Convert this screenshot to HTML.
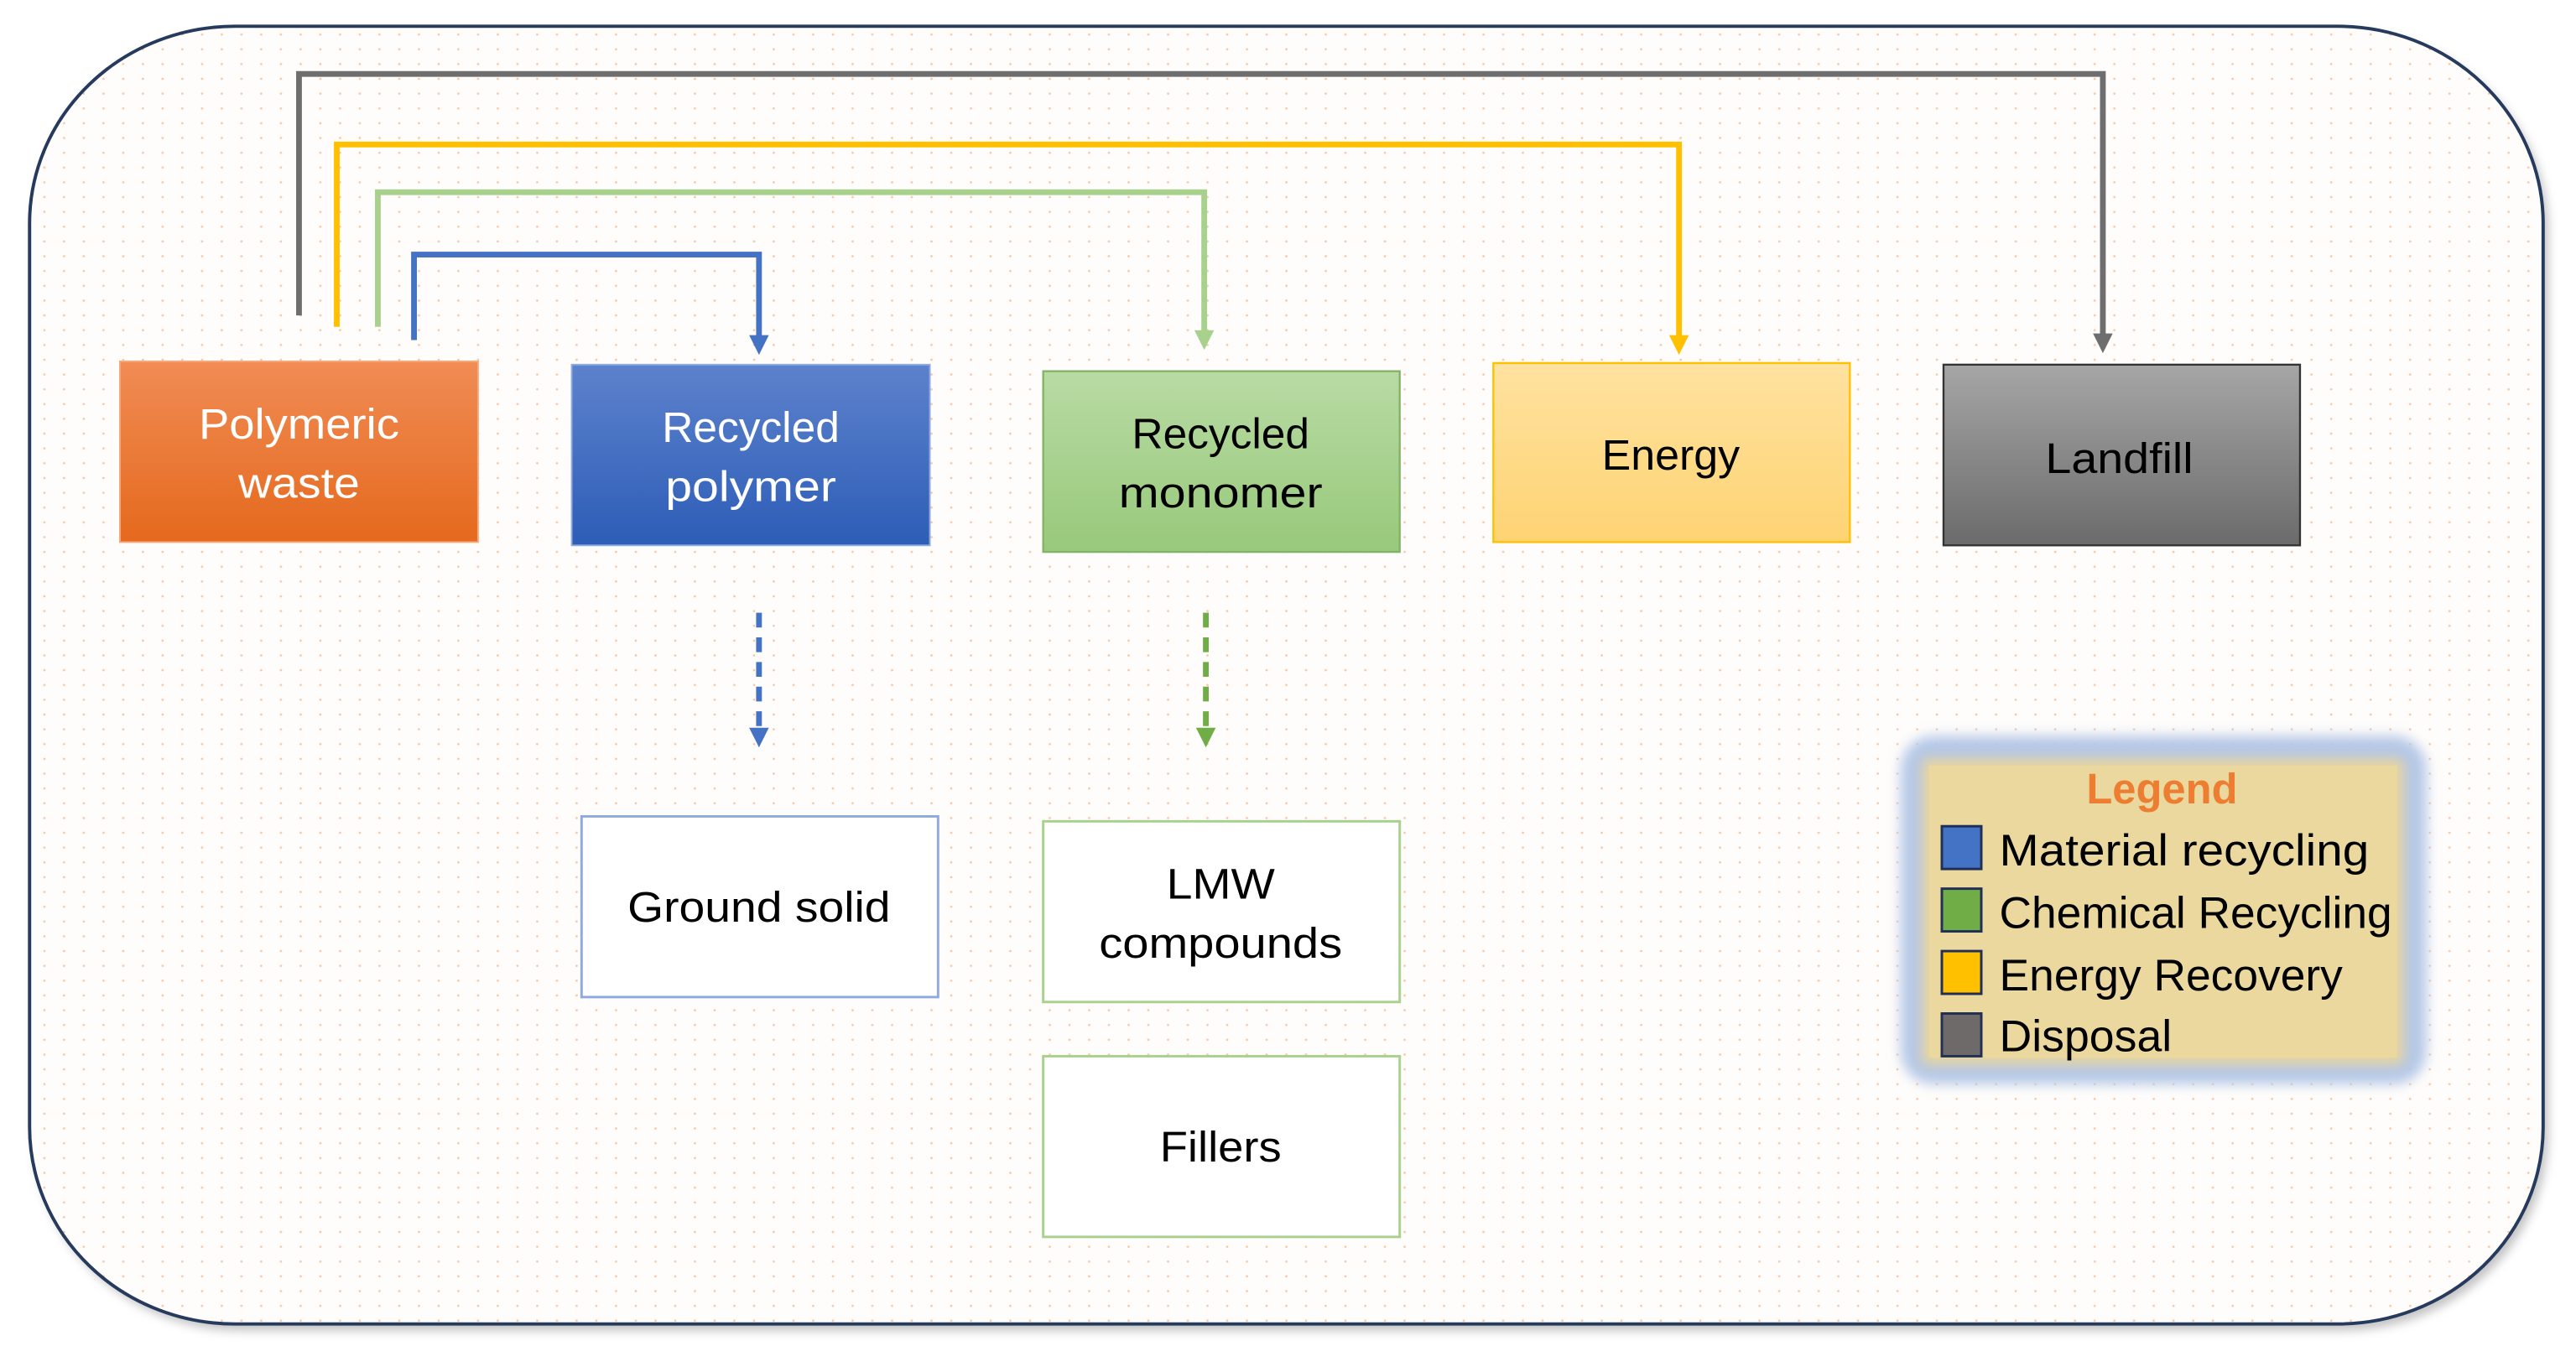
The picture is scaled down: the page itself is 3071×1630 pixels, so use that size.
<!DOCTYPE html>
<html><head><meta charset="utf-8"><style>
html,body{margin:0;padding:0;background:#fff;}
svg{display:block;}
text{font-family:"Liberation Sans",sans-serif;}
</style></head><body>
<svg width="3071" height="1630" viewBox="0 0 1568 832.2" preserveAspectRatio="none" xmlns="http://www.w3.org/2000/svg">
<defs>
<pattern id="dots" x="0" y="0" width="12" height="9" patternUnits="userSpaceOnUse">
<circle cx="3" cy="3" r="0.7" fill="#f4b183" opacity="0.7"/>
</pattern>
<linearGradient id="gO" x1="0" y1="0" x2="0" y2="1"><stop offset="0" stop-color="#f08c55"/><stop offset="1" stop-color="#e5691d"/></linearGradient>
<linearGradient id="gB" x1="0" y1="0" x2="0" y2="1"><stop offset="0" stop-color="#5d82cc"/><stop offset="1" stop-color="#2d5db7"/></linearGradient>
<linearGradient id="gG" x1="0" y1="0" x2="0" y2="1"><stop offset="0" stop-color="#b8dba4"/><stop offset="1" stop-color="#98c97b"/></linearGradient>
<linearGradient id="gY" x1="0" y1="0" x2="0" y2="1"><stop offset="0" stop-color="#ffe2a0"/><stop offset="1" stop-color="#fed373"/></linearGradient>
<linearGradient id="gK" x1="0" y1="0" x2="0" y2="1"><stop offset="0" stop-color="#a6a6a6"/><stop offset="1" stop-color="#6b6b6b"/></linearGradient>
<filter id="blur" x="-10%" y="-10%" width="120%" height="120%"><feGaussianBlur stdDeviation="4"/></filter>
<filter id="sh" x="-5%" y="-5%" width="110%" height="110%"><feGaussianBlur stdDeviation="3"/></filter>
</defs>
<rect x="21" y="20" width="1530" height="790" rx="125" ry="120" fill="#999" filter="url(#sh)" opacity="0.6"/>
<rect x="18" y="16" width="1530" height="790" rx="125" ry="120" fill="#fffdfb"/>
<rect x="18" y="16" width="1530" height="790" rx="125" ry="120" fill="url(#dots)" stroke="#263a5e" stroke-width="2"/>

<!-- connectors -->
<g fill="none" stroke-width="3.5">
<polyline points="182,192 182,45 1280,45 1280,205" stroke="#6e6e6e"/>
<polyline points="205,199 205,88 1022,88 1022,206" stroke="#ffc000"/>
<polyline points="230,199 230,117 733,117 733,203" stroke="#a9d18e"/>
<polyline points="252,207 252,155 462,155 462,206" stroke="#4472c4"/>
<line x1="462" y1="373" x2="462" y2="446" stroke="#4472c4" stroke-dasharray="9,6"/>
<line x1="734" y1="373" x2="734" y2="446" stroke="#70ad47" stroke-dasharray="9,6"/>
</g>
<g>
<polygon points="1274,203 1286,203 1280,215" fill="#6e6e6e"/>
<polygon points="1016,204 1028,204 1022,216" fill="#ffc000"/>
<polygon points="727,201 739,201 733,213" fill="#a9d18e"/>
<polygon points="456,204 468,204 462,216" fill="#4472c4"/>
<polygon points="456,443 468,443 462,455" fill="#4472c4"/>
<polygon points="728,443 740,443 734,455" fill="#70ad47"/>
</g>

<!-- boxes -->
<rect x="73" y="220" width="218" height="110" fill="url(#gO)" stroke="#f4a97a" stroke-width="1"/>
<text x="182" y="267" font-size="26" fill="#fff" text-anchor="middle" textLength="122" lengthAdjust="spacingAndGlyphs">Polymeric</text>
<text x="182" y="303" font-size="26" fill="#fff" text-anchor="middle" textLength="74" lengthAdjust="spacingAndGlyphs">waste</text>

<rect x="348" y="222" width="218" height="110" fill="url(#gB)" stroke="#8faadc" stroke-width="1"/>
<text x="457" y="269" font-size="26" fill="#fff" text-anchor="middle" textLength="108" lengthAdjust="spacingAndGlyphs">Recycled</text>
<text x="457" y="305" font-size="26" fill="#fff" text-anchor="middle" textLength="104" lengthAdjust="spacingAndGlyphs">polymer</text>

<rect x="635" y="226" width="217" height="110" fill="url(#gG)" stroke="#82b366" stroke-width="1.2"/>
<text x="743" y="273" font-size="26" fill="#000" text-anchor="middle" textLength="108" lengthAdjust="spacingAndGlyphs">Recycled</text>
<text x="743" y="309" font-size="26" fill="#000" text-anchor="middle" textLength="124" lengthAdjust="spacingAndGlyphs">monomer</text>

<rect x="909" y="221" width="217" height="109" fill="url(#gY)" stroke="#ffc000" stroke-width="1.2"/>
<text x="1017" y="286" font-size="26" fill="#000" text-anchor="middle" textLength="84" lengthAdjust="spacingAndGlyphs">Energy</text>

<rect x="1183" y="222" width="217" height="110" fill="url(#gK)" stroke="#333" stroke-width="1.2"/>
<text x="1290" y="288" font-size="26" fill="#000" text-anchor="middle" textLength="90" lengthAdjust="spacingAndGlyphs">Landfill</text>

<rect x="354" y="497" width="217" height="110" fill="#fff" stroke="#8faadc" stroke-width="1.5"/>
<text x="462" y="561" font-size="26" fill="#000" text-anchor="middle" textLength="160" lengthAdjust="spacingAndGlyphs">Ground solid</text>

<rect x="635" y="500" width="217" height="110" fill="#fff" stroke="#a9d18e" stroke-width="1.5"/>
<text x="743" y="547" font-size="26" fill="#000" text-anchor="middle" textLength="66" lengthAdjust="spacingAndGlyphs">LMW</text>
<text x="743" y="583" font-size="26" fill="#000" text-anchor="middle" textLength="148" lengthAdjust="spacingAndGlyphs">compounds</text>

<rect x="635" y="643" width="217" height="110" fill="#fff" stroke="#a9d18e" stroke-width="1.5"/>
<text x="743" y="707" font-size="26" fill="#000" text-anchor="middle" textLength="74" lengthAdjust="spacingAndGlyphs">Fillers</text>

<!-- legend -->
<rect x="1157" y="448" width="320" height="212" rx="20" fill="#b4c7e7" filter="url(#blur)"/>
<rect x="1170" y="462" width="293" height="186" fill="#e9d59c" filter="url(#blur)"/>
<rect x="1174" y="466" width="285" height="178" fill="#ead89f"/>
<text x="1316" y="489" font-size="26" font-weight="bold" fill="#ed7d31" text-anchor="middle" textLength="92" lengthAdjust="spacingAndGlyphs">Legend</text>
<rect x="1182" y="503" width="24" height="26" fill="#4472c4" stroke="#1f2f55" stroke-width="1.5"/>
<rect x="1182" y="541" width="24" height="26" fill="#70ad47" stroke="#1f2f55" stroke-width="1.5"/>
<rect x="1182" y="579" width="24" height="26" fill="#ffc000" stroke="#1f2f55" stroke-width="1.5"/>
<rect x="1182" y="617" width="24" height="26" fill="#6f6a6a" stroke="#1f2f55" stroke-width="1.5"/>
<text x="1217" y="527" font-size="27" fill="#000" textLength="225" lengthAdjust="spacingAndGlyphs">Material recycling</text>
<text x="1217" y="565" font-size="27" fill="#000" textLength="239" lengthAdjust="spacingAndGlyphs">Chemical Recycling</text>
<text x="1217" y="603" font-size="27" fill="#000" textLength="209" lengthAdjust="spacingAndGlyphs">Energy Recovery</text>
<text x="1217" y="640" font-size="27" fill="#000" textLength="105" lengthAdjust="spacingAndGlyphs">Disposal</text>
</svg>
</body></html>
